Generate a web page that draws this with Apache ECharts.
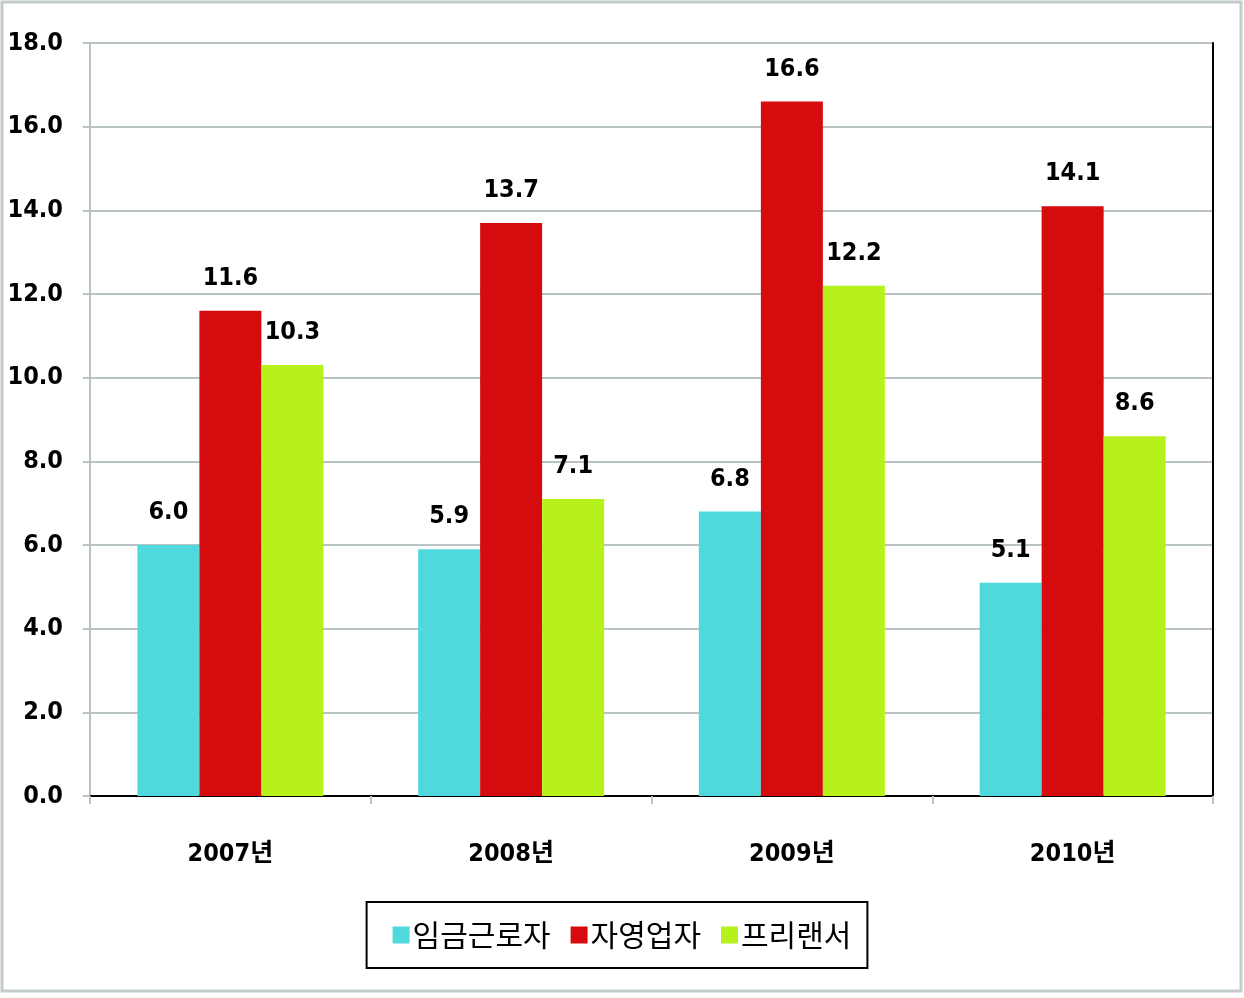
<!DOCTYPE html>
<html><head><meta charset="utf-8">
<script src="https://cdn.jsdelivr.net/npm/echarts@6/dist/echarts.min.js"></script>
<style>html,body{margin:0;padding:0;background:#fff}#c{width:1244px;height:998px}</style>
</head><body><div id="c"></div>
<script>
const categories = ['2007년', '2008년', '2009년', '2010년'];
const seriesNames = ['임금근로자', '자영업자', '프리랜서'];
const wageWorkers = [6.0, 5.9, 6.8, 5.1];
const selfEmployed = [11.6, 13.7, 16.6, 14.1];
const freelancers = [10.3, 7.1, 12.2, 8.6];
const yTicks = { min: 0, max: 18, interval: 2 };

const NUM_FONT = '"DejaVu Sans Condensed", "Noto Sans CJK KR", sans-serif';
const KR_FONT = '"Noto Sans CJK KR", sans-serif';
const gridColor = '#b9c3c3';
const colors = ['#50d9dd', '#d50b0e', '#b7f11b'];

const chart = echarts.init(document.getElementById('c'), null, { renderer: 'canvas' });
const mkSeries = (name, data, color) => ({
  name, type: 'bar', data, barWidth: 62, barGap: '0%',
  itemStyle: { color },
  label: { show: true, position: 'top', distance: 20, color: '#000', fontSize: 25, fontWeight: 'bold', fontFamily: NUM_FONT,
    formatter: p => p.value.toFixed(1) }
});
chart.setOption({
  animation: false,
  backgroundColor: '#fff',
  graphic: [{ type: 'rect', shape: { x: 2, y: 2, width: 1239, height: 989 }, style: { fill: 'none', stroke: '#c3cbcb', lineWidth: 3 }, silent: true }],
  grid: { left: 90, right: 31, top: 43, bottom: 202, containLabel: false },
  legend: {
    data: seriesNames, left: 'center', top: 902, orient: 'horizontal',
    borderColor: '#000', borderWidth: 2, padding: [18, 16, 18, 26], itemGap: 20,
    itemWidth: 17, itemHeight: 17, icon: 'rect',
    textStyle: { fontSize: 30, fontFamily: KR_FONT, color: '#000', padding: [0, 0, 0, -2] }
  },
  xAxis: [{
    type: 'category', data: categories, position: 'bottom',
    axisLine: { lineStyle: { color: gridColor, width: 2 } },
    axisTick: { show: true, length: 8, lineStyle: { color: gridColor, width: 2 } },
    axisLabel: { color: '#000', fontSize: 25, fontWeight: 'bold', fontFamily: NUM_FONT, margin: 46 }
  }, {
    type: 'category', data: categories, position: 'top',
    axisLine: { show: true, lineStyle: { color: '#000', width: 2 } },
    axisTick: { show: false }, axisLabel: { show: false }
  }],
  yAxis: [{
    type: 'value', min: yTicks.min, max: yTicks.max, interval: yTicks.interval,
    axisLine: { show: true, lineStyle: { color: gridColor, width: 2 } },
    axisTick: { show: true, length: 7, lineStyle: { color: gridColor, width: 2 } },
    splitLine: { show: true, lineStyle: { color: gridColor, width: 2 } },
    axisLabel: { color: '#000', fontSize: 25, fontWeight: 'bold', fontFamily: NUM_FONT, margin: 27, formatter: v => v.toFixed(1) }
  }, {
    type: 'value', min: yTicks.min, max: yTicks.max, interval: yTicks.interval, position: 'right',
    axisLine: { show: true, lineStyle: { color: '#000', width: 2 } },
    axisTick: { show: false }, axisLabel: { show: false }, splitLine: { show: false }
  }],
  series: [
    mkSeries(seriesNames[0], wageWorkers, colors[0]),
    mkSeries(seriesNames[1], selfEmployed, colors[1]),
    mkSeries(seriesNames[2], freelancers, colors[2])
  ]
});
</script></body></html>
